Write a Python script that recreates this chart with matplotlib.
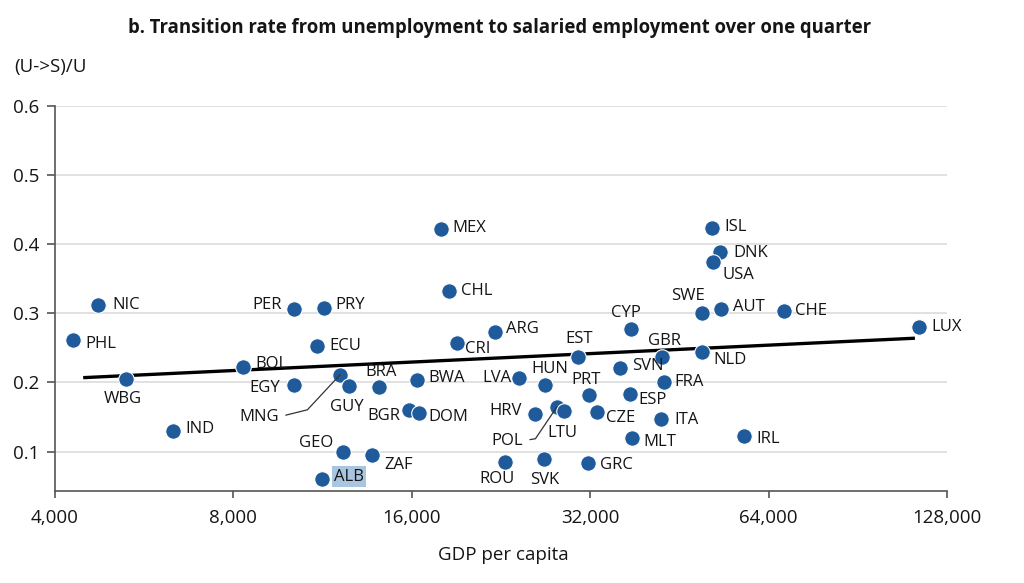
import matplotlib
matplotlib.use("Agg")
import matplotlib.pyplot as plt
from matplotlib.ticker import FixedLocator, FuncFormatter, NullLocator

# ---------------- data ----------------
codes = ["NIC", "PHL", "WBG", "IND", "BOL", "PER", "EGY", "PRY", "ECU", "MNG",
         "GUY", "BRA", "BGR", "DOM", "BWA", "GEO", "ZAF", "ALB", "CRI", "ARG",
         "ROU", "MEX", "CHL", "LVA", "HUN", "HRV", "POL", "LTU", "SVK", "EST",
         "PRT", "CZE", "GRC", "SVN", "CYP", "ESP", "MLT", "GBR", "FRA", "ITA",
         "NLD", "SWE", "AUT", "CHE", "LUX", "IRL", "ISL", "DNK", "USA"]
gdp = [4727, 4297, 5271, 6333, 8314, 10122, 10122, 11374, 11083, 12103,
       12518, 14100, 15846, 16474, 16310, 12229, 13725, 11289, 19048, 22103,
       22980, 17900, 18490, 24290, 26880, 25790, 28130, 28870, 26770, 30480,
       31880, 32890, 31710, 35960, 37500, 37390, 37640, 42300, 42580, 42140,
       49410, 49410, 53260, 68030, 114960, 58080, 51360, 53050, 51550]
rate = [0.312, 0.261, 0.2055, 0.130, 0.223, 0.306, 0.196, 0.308, 0.253, 0.211,
        0.195, 0.193, 0.160, 0.1555, 0.2036, 0.100, 0.095, 0.061, 0.2575, 0.273,
        0.0855, 0.422, 0.332, 0.206, 0.196, 0.154, 0.165, 0.159, 0.089, 0.237,
        0.182, 0.157, 0.084, 0.221, 0.278, 0.183, 0.120, 0.237, 0.201, 0.147,
        0.2436, 0.301, 0.306, 0.303, 0.2806, 0.123, 0.423, 0.388, 0.3746]
trend_gdp = [4463, 113000]
trend_rate = [0.207, 0.264]
x_ticks = [4000, 8000, 16000, 32000, 64000, 128000]
y_ticks = [0.1, 0.2, 0.3, 0.4, 0.5, 0.6]
highlight = "ALB"

title = "b. Transition rate from unemployment to salaried employment over one quarter"
y_title = "(U->S)/U"
x_title = "GDP per capita"

# ---------------- label layout (pixel offsets) ----------------
label_pos = {
    "NIC": ("r", 14, 0), "PHL": ("r", 12, -4), "WBG": ("c", -3, -20),
    "IND": ("r", 12, 2), "BOL": ("r", 12, 3), "PER": ("l", -12, 4),
    "EGY": ("l", -14, -3), "PRY": ("r", 11, 3), "ECU": ("r", 12, 0),
    "GUY": ("c", -2, -21), "BRA": ("c", 2, 15), "BGR": ("l", -9, -6),
    "DOM": ("r", 9, -4), "BWA": ("r", 12, 2), "GEO": ("l", -9, 9),
    "ZAF": ("r", 12, -10), "ALB": ("r", 12, 2), "CRI": ("r", 8, -6),
    "ARG": ("r", 11, 3), "ROU": ("c", -8, -17), "MEX": ("r", 12, 1),
    "CHL": ("r", 12, 0), "LVA": ("l", -8, 0), "HUN": ("c", 4, 16),
    "HRV": ("l", -13, 3), "LTU": ("c", -1, -22), "SVK": ("c", 0, -21),
    "EST": ("c", 1, 18), "PRT": ("c", -3, 15), "CZE": ("r", 9, -6),
    "GRC": ("r", 12, -2), "SVN": ("r", 12, 2), "CYP": ("c", -5, 16),
    "ESP": ("r", 8, -6), "MLT": ("r", 11, -4), "GBR": ("c", 2, 16),
    "FRA": ("r", 11, 0), "ITA": ("r", 13, -1), "NLD": ("r", 11, -8),
    "SWE": ("c", -14, 17), "AUT": ("r", 12, 2), "CHE": ("r", 11, 0),
    "LUX": ("r", 12, 0), "IRL": ("r", 13, -3), "ISL": ("r", 12, 1),
    "DNK": ("r", 13, -1), "USA": ("r", 10, -13),
}
leader = {  # text offset (px), connection angles
    "MNG": (-61, -42, 14, 47),
    "POL": (-34, -34, 9, 56),
}

plt.rcParams["font.family"] = ["Open Sans", "DejaVu Sans"]
DOT = "#1f5a9a"
TXT = "#151515"
FS = 12

fig = plt.figure(figsize=(10.24, 5.83), dpi=100)
ax = fig.add_axes([55 / 1024, 1 - 491 / 583, (947 - 55) / 1024, (491 - 105.7) / 583])
ax.set_xscale("log", base=2)
ax.set_xlim(4000, 128000)
ax.set_ylim(0.0432, 0.6)

ax.xaxis.set_major_locator(FixedLocator(x_ticks))
ax.xaxis.set_minor_locator(NullLocator())
ax.xaxis.set_major_formatter(FuncFormatter(lambda v, p: f"{int(round(v)):,}"))
ax.yaxis.set_major_locator(FixedLocator(y_ticks))
ax.yaxis.set_major_formatter(FuncFormatter(lambda v, p: f"{v:.1f}"))

for s in ["top", "right"]:
    ax.spines[s].set_visible(False)
for s in ["left", "bottom"]:
    ax.spines[s].set_color("#555555")
    ax.spines[s].set_linewidth(1.2)
ax.tick_params(axis="both", colors="#555555", labelcolor=TXT, labelsize=13.5, width=1.2)
ax.tick_params(axis="x", length=5, pad=8)
ax.tick_params(axis="y", length=6, pad=5)
ax.grid(axis="y", color="#dcdcdc", linewidth=1.2, zorder=0)
ax.set_axisbelow(True)

ax.plot(trend_gdp, trend_rate, color="black", linewidth=2.4, solid_capstyle="butt", zorder=2)
ax.scatter(gdp, rate, s=125, color=DOT, edgecolors="white", linewidths=0.8, zorder=3)

for c, x, y in zip(codes, gdp, rate):
    if c in leader:
        dx, dy, aA, aB = leader[c]
        ax.annotate(c, (x, y), xytext=(dx, dy), textcoords="offset pixels",
                    ha="right", va="center", fontsize=FS, color=TXT, zorder=4,
                    arrowprops=dict(arrowstyle="-", color="#333333", lw=0.9,
                                    relpos=(1, 0.5), shrinkA=3, shrinkB=0,
                                    connectionstyle=f"angle,angleA={aA},angleB={aB},rad=0"))
        continue
    kind, dx, dy = label_pos[c]
    ha = {"r": "left", "l": "right", "c": "center"}[kind]
    kw = {}
    if c == highlight:
        kw["bbox"] = dict(boxstyle="square,pad=0.15", facecolor="#a9c6e0", edgecolor="none")
    ax.annotate(c, (x, y), xytext=(dx, dy), textcoords="offset pixels",
                ha=ha, va="center", fontsize=FS, color=TXT, zorder=4, **kw)

fig.text(500 / 1024, 1 - 28 / 583, title, ha="center", va="center",
         fontsize=13.35, fontweight="bold", color=TXT)
fig.text(14 / 1024, 1 - 67 / 583, y_title, ha="left", va="center", fontsize=13.5, color=TXT)
fig.text(503 / 1024, 1 - 555 / 583, x_title, ha="center", va="center", fontsize=13.5, color=TXT)

fig.savefig("out.png", dpi=100)
